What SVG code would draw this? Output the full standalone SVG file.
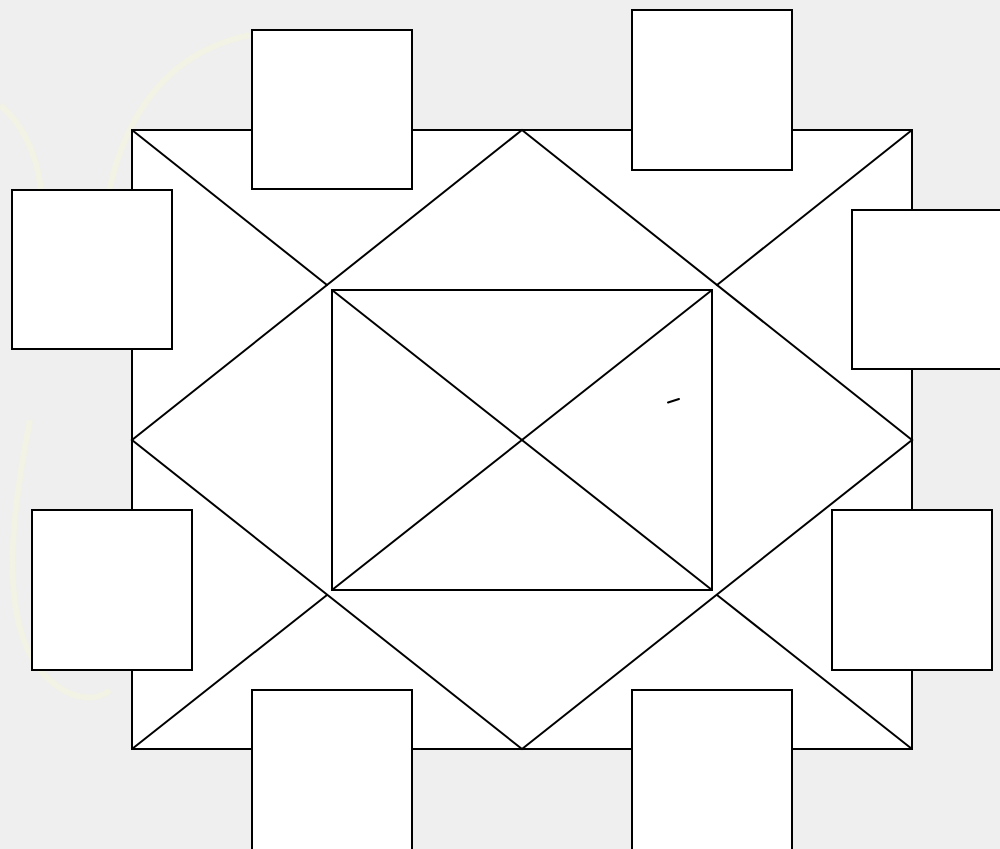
<svg xmlns="http://www.w3.org/2000/svg" width="1000" height="849" viewBox="0 0 1000 849">
<style>
.bg{fill:#efefef}
.wm{fill:none;stroke:#f4f3de;stroke-width:6;opacity:0.6}
.frame{fill:#ffffff;stroke:#000;stroke-width:2}
.ln{fill:none;stroke:#000;stroke-width:2;stroke-linecap:round}
.box{fill:#ffffff;stroke:#000;stroke-width:2}
</style>
<rect class="bg" x="0" y="0" width="1000" height="849"/>
<g id="watermark">
<path class="wm" d="M100,310 C95,180 130,60 250,35"/>
<path class="wm" d="M0,105 C25,125 45,170 40,210"/>
<path class="wm" d="M30,420 C10,520 0,620 40,670 C70,705 100,700 110,690"/>
</g>
<g id="frame">
<rect class="frame" x="132" y="130" width="780" height="619"/>
</g>
<g id="connectors">
<polygon class="ln" points="522,130 912,440 522,749 132,440"/>
<line class="ln" x1="132" y1="130" x2="327" y2="285"/>
<line class="ln" x1="912" y1="130" x2="717" y2="285"/>
<line class="ln" x1="132" y1="749" x2="327" y2="595"/>
<line class="ln" x1="912" y1="749" x2="717" y2="595"/>
<rect class="ln" x="332" y="290" width="380" height="300"/>
<line class="ln" x1="332" y1="290" x2="712" y2="590"/>
<line class="ln" x1="712" y1="290" x2="332" y2="590"/>
<line class="ln" x1="668" y1="402.5" x2="679" y2="399" stroke-width="1.5"/>
</g>
<g id="node-top-left"><rect class="box" x="252" y="30" width="160" height="159"/></g>
<g id="node-top-right"><rect class="box" x="632" y="10" width="160" height="160"/></g>
<g id="node-left"><rect class="box" x="12" y="190" width="160" height="159"/></g>
<g id="node-right"><rect class="box" x="852" y="210" width="160" height="159"/></g>
<g id="node-left-bottom"><rect class="box" x="32" y="510" width="160" height="160"/></g>
<g id="node-right-bottom"><rect class="box" x="832" y="510" width="160" height="160"/></g>
<g id="node-bottom-left"><rect class="box" x="252" y="690" width="160" height="170"/></g>
<g id="node-bottom-right"><rect class="box" x="632" y="690" width="160" height="170"/></g>
</svg>
